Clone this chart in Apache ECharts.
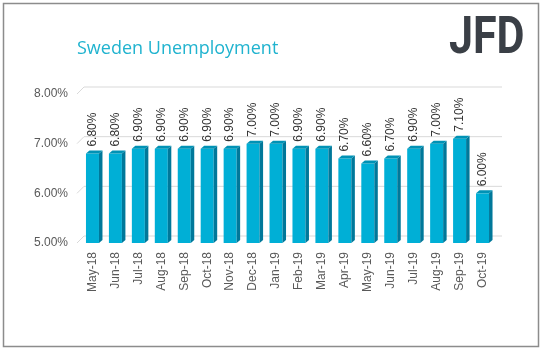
<!DOCTYPE html>
<html>
<head>
<meta charset="utf-8">
<script src="https://cdn.jsdelivr.net/npm/echarts@6/dist/echarts.min.js"></script>
<style>
  html, body { margin: 0; padding: 0; background: #fff; }
  #chart { width: 543px; height: 353px; }
</style>
</head>
<body>
<div id="chart"></div>
<script>
const months = ['May-18', 'Jun-18', 'Jul-18', 'Aug-18', 'Sep-18', 'Oct-18', 'Nov-18', 'Dec-18', 'Jan-19',
  'Feb-19', 'Mar-19', 'Apr-19', 'May-19', 'Jun-19', 'Jul-19', 'Aug-19', 'Sep-19', 'Oct-19'];
const rates = [6.8, 6.8, 6.9, 6.9, 6.9, 6.9, 6.9, 7.0, 7.0, 6.9, 6.9, 6.7, 6.6, 6.7, 6.9, 7.0, 7.1, 6.0];
const yTicks = [5, 6, 7, 8];

const pct = v => Number(v).toFixed(2) + '%';
// depth of the fake 3d look
const dx = 3.5, dy = 3;
const wallDx = 7, wallDy = 7;
const halfW = 6.5;

let myChart = echarts.init(document.getElementById('chart'));
myChart.setOption({
  animation: false,
  title: {
    text: 'Sweden Unemployment',
    left: 72,
    top: 35,
    textStyle: { color: '#20b3cf', fontSize: 18, fontWeight: 'normal', fontFamily: 'Open Sans' }
  },
  graphic: [
    {
      type: 'rect',
      shape: { x: 3.5, y: 3.5, width: 535, height: 343 },
      style: { fill: 'none', stroke: '#8c8c8c', lineWidth: 1.5 },
      z: 10
    },
    {
      type: 'text',
      x: 449,
      y: 14,
      scaleX: 0.86,
      scaleY: 1.04,
      style: { text: 'JFD', fill: '#3a3f46', font: 'bold 50px Roboto' }
    }
  ],
  grid: { left: 81, right: 49, top: 94, bottom: 110 },
  xAxis: {
    type: 'category',
    data: months,
    axisLine: { show: false },
    axisTick: { show: false },
    axisLabel: {
      rotate: 90,
      margin: 9,
      color: '#595959',
      fontSize: 12,
      fontFamily: 'Liberation Sans'
    }
  },
  yAxis: {
    type: 'value',
    min: 5,
    max: 8,
    interval: 1,
    axisLine: { show: false },
    axisTick: { show: false },
    splitLine: { show: false },
    axisLabel: {
      formatter: pct,
      margin: 13,
      color: '#595959',
      fontSize: 12,
      fontFamily: 'Liberation Sans'
    }
  },
  series: [
    {
      // back wall gridlines with the left depth edge
      type: 'custom',
      silent: true,
      z: 0,
      data: yTicks.map(v => [0, v]),
      renderItem: function (params, api) {
        const cs = params.coordSys;
        const y = api.coord([0, api.value(1)])[1];
        const x0 = cs.x - 4;
        return {
          type: 'polyline',
          shape: { points: [[x0, y], [x0 + wallDx, y - wallDy], [cs.x + cs.width + 8, y - wallDy]] },
          style: { stroke: '#d9d9d9', lineWidth: 1, fill: 'none' }
        };
      }
    },
    {
      type: 'bar',
      data: rates,
      barWidth: 13,
      z: 2,
      itemStyle: { color: '#00afd6' },
      label: {
        show: true,
        position: 'top',
        rotate: 90,
        align: 'left',
        verticalAlign: 'middle',
        distance: 7,
        formatter: p => pct(p.value),
        color: '#333333',
        fontSize: 12,
        fontFamily: 'Liberation Sans'
      }
    },
    {
      // side and top faces of each bar
      type: 'custom',
      silent: true,
      z: 3,
      data: rates.map((v, i) => [i, v]),
      renderItem: function (params, api) {
        const top = api.coord([api.value(0), api.value(1)]);
        const bot = api.coord([api.value(0), 5]);
        const x = top[0];
        return {
          type: 'group',
          children: [
            {
              type: 'polygon',
              shape: { points: [[x + halfW, top[1]], [x + halfW + dx, top[1] - dy], [x + halfW + dx, bot[1] - dy], [x + halfW, bot[1]]] },
              style: { fill: '#00789a' }
            },
            {
              type: 'polygon',
              shape: { points: [[x - halfW, top[1]], [x - halfW + dx, top[1] - dy], [x + halfW + dx, top[1] - dy], [x + halfW, top[1]]] },
              style: { fill: '#0092b5' }
            }
          ]
        };
      }
    }
  ]
});
</script>
</body>
</html>
